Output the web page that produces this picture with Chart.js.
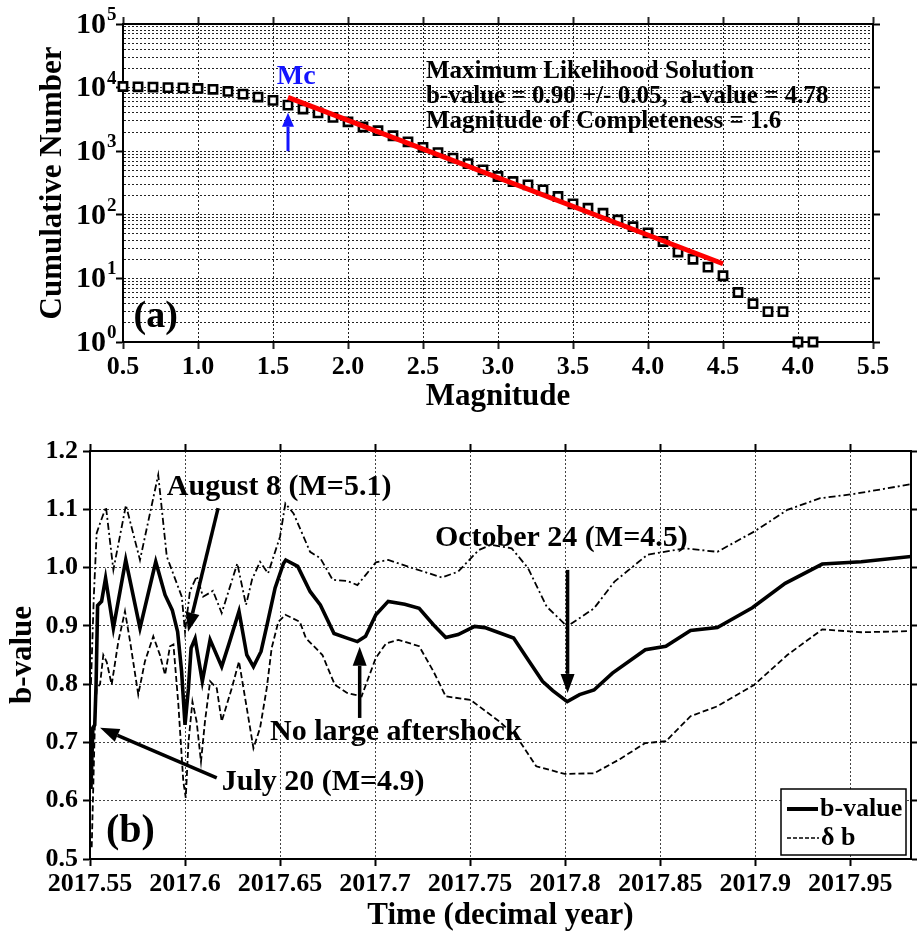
<!DOCTYPE html>
<html>
<head>
<meta charset="utf-8">
<script src="https://cdn.jsdelivr.net/npm/chart.js@4.4.1/dist/chart.umd.min.js"></script>
<style>
  body { margin: 0; background: #fff; }
  #wrap { position: relative; width: 917px; height: 935px; overflow: hidden; }
  canvas { position: absolute; left: 0; }
  #gr { top: 0; }
  #bv { top: 425px; }
</style>
</head>
<body>
<div id="wrap">
  <canvas id="gr" width="917" height="425"></canvas>
  <canvas id="bv" width="917" height="510"></canvas>
</div>
<script>
// ===== (a) Frequency-magnitude distribution =====
const magnitudes = [0.5, 0.6, 0.7, 0.8, 0.9, 1.0, 1.1, 1.2, 1.3, 1.4, 1.5, 1.6, 1.7, 1.8, 1.9, 2.0,
    2.1, 2.2, 2.3, 2.4, 2.5, 2.6, 2.7, 2.8, 2.9, 3.0, 3.1, 3.2, 3.3, 3.4, 3.5, 3.6, 3.7, 3.8, 3.9, 4.0,
    4.1, 4.2, 4.3, 4.4, 4.5, 4.6, 4.7, 4.8, 4.9, 5.0, 5.1];
const cumNumber = [10400, 10300, 10200, 10000, 9900, 9700, 9400, 8700, 7900, 7100, 6300, 5300, 4600, 4000, 3400, 2900,
    2400, 2100, 1750, 1400, 1150, 950, 780, 640, 510, 400, 334, 296, 247, 194, 149, 127, 106, 83, 65, 52,
    38, 26, 20, 15, 11, 6, 4, 3, 3, 1, 1];
// red maximum-likelihood line, end points
const fitMag = [1.6, 4.5];
const fitNum = [7000, 17];
const magTicks = [0.5, 1.0, 1.5, 2.0, 2.5, 3.0, 3.5, 4.0, 4.5, 5.0, 5.5];
const magTickLabels = ['0.5', '1.0', '1.5', '2.0', '2.5', '3.0', '3.5', '4.0', '4.5', '4.0', '5.5'];
const decades = [1, 10, 100, 1000, 10000, 100000];

// ===== (b) b-value through time =====
const bTime = [2017.5505, 2017.5515, 2017.5525, 2017.5532, 2017.5540, 2017.5561, 2017.5582, 2017.5623, 2017.5688,
    2017.5763, 2017.5846, 2017.5895, 2017.5933, 2017.5961, 2017.5982, 2017.6000, 2017.6018, 2017.6032, 2017.6053,
    2017.6091, 2017.6132, 2017.6193, 2017.6232, 2017.6284, 2017.6325, 2017.6360, 2017.6400, 2017.6435, 2017.6474,
    2017.6518, 2017.6530, 2017.6593, 2017.6658, 2017.6712, 2017.6784, 2017.6853, 2017.6907, 2017.6950, 2017.7004,
    2017.7069, 2017.7156, 2017.7232, 2017.7307, 2017.7372, 2017.7437, 2017.7524, 2017.7578, 2017.7729, 2017.7805,
    2017.7881, 2017.7935, 2017.8011, 2017.8076, 2017.8152, 2017.8249, 2017.8422, 2017.8530, 2017.8660, 2017.8801,
    2017.8985, 2017.9158, 2017.9353, 2017.9558, 2017.9820];
const bValue = [0.62, 0.725, 0.73, 0.80, 0.935, 0.942, 0.982, 0.896, 1.013,
    0.896, 1.010, 0.953, 0.927, 0.890, 0.822, 0.730, 0.793, 0.862, 0.878,
    0.805, 0.876, 0.830, 0.870, 0.925, 0.850, 0.830, 0.856, 0.907, 0.965,
    1.007, 1.013, 1.002, 0.959, 0.936, 0.887, 0.879, 0.873, 0.882, 0.919,
    0.942, 0.937, 0.930, 0.902, 0.880, 0.885, 0.899, 0.897, 0.879, 0.842,
    0.805, 0.789, 0.770, 0.782, 0.790, 0.819, 0.859, 0.865, 0.892, 0.897,
    0.931, 0.973, 1.006, 1.010, 1.019];

const upTime = [2017.5505, 2017.5520, 2017.5535, 2017.5553, 2017.5584, 2017.5623, 2017.5689, 2017.5763, 2017.5859,
    2017.5904, 2017.5983, 2017.6000, 2017.6026, 2017.6062, 2017.6095, 2017.6147, 2017.6193, 2017.6275, 2017.6321,
    2017.6353, 2017.6395, 2017.6437, 2017.6500, 2017.6528, 2017.6571, 2017.6658, 2017.6712, 2017.6777, 2017.6853,
    2017.6907, 2017.6950, 2017.7004, 2017.7069, 2017.7199, 2017.7351, 2017.7437, 2017.7545, 2017.7610, 2017.7719,
    2017.7805, 2017.7903, 2017.8011, 2017.8152, 2017.8260, 2017.8433, 2017.8628, 2017.8801, 2017.8996, 2017.9169,
    2017.9342, 2017.9515, 2017.9820];
const upValue = [0.80, 0.95, 1.059, 1.076, 1.104, 0.996, 1.107, 1.013, 1.159,
    1.019, 0.950, 0.890, 0.960, 0.985, 0.950, 0.960, 0.922, 1.007, 0.936,
    0.980, 1.010, 0.990, 1.053, 1.110, 1.093, 1.027, 1.016, 0.979, 0.977,
    0.970, 0.987, 1.009, 1.013, 0.999, 0.983, 0.993, 1.030, 1.039, 1.033,
    0.999, 0.933, 0.899, 0.930, 0.976, 1.022, 1.033, 1.027, 1.062, 1.099,
    1.119, 1.126, 1.143];

const lowTime = [2017.5509, 2017.5526, 2017.5535, 2017.5553, 2017.5570, 2017.5588, 2017.5614, 2017.5649, 2017.5684,
    2017.5711, 2017.5754, 2017.5789, 2017.5833, 2017.5868, 2017.5895, 2017.5921, 2017.5939, 2017.5965, 2017.5991,
    2017.6004, 2017.6018, 2017.6039, 2017.6061, 2017.6084, 2017.6105, 2017.6132, 2017.6167, 2017.6193, 2017.6246,
    2017.6284, 2017.6325, 2017.6360, 2017.6395, 2017.6430, 2017.6456, 2017.6491, 2017.6528, 2017.6604, 2017.6636,
    2017.6723, 2017.6788, 2017.6853, 2017.6929, 2017.7004, 2017.7058, 2017.7123, 2017.7232, 2017.7307, 2017.7372,
    2017.7502, 2017.7654, 2017.7751, 2017.7848, 2017.7998, 2017.8152, 2017.8281, 2017.8422, 2017.8530, 2017.8660,
    2017.8801, 2017.8996, 2017.9169, 2017.9353, 2017.9558, 2017.9820];
const lowValue = [0.52, 0.736, 0.793, 0.800, 0.850, 0.838, 0.799, 0.873, 0.925,
    0.873, 0.782, 0.839, 0.882, 0.850, 0.816, 0.865, 0.868, 0.765, 0.633,
    0.605, 0.700, 0.770, 0.736, 0.667, 0.736, 0.805, 0.793, 0.736, 0.793,
    0.839, 0.759, 0.690, 0.725, 0.793, 0.862, 0.907, 0.919, 0.907, 0.879,
    0.850, 0.799, 0.785, 0.779, 0.845, 0.870, 0.876, 0.865, 0.822, 0.779,
    0.773, 0.736, 0.707, 0.659, 0.646, 0.647, 0.670, 0.699, 0.702, 0.745,
    0.762, 0.799, 0.850, 0.894, 0.889, 0.891];

const timeTicks = [2017.55, 2017.6, 2017.65, 2017.7, 2017.75, 2017.8, 2017.85, 2017.9, 2017.95];
const timeTickLabels = ['2017.55', '2017.6', '2017.65', '2017.7', '2017.75', '2017.8', '2017.85', '2017.9', '2017.95'];
const bTicks = [0.5, 0.6, 0.7, 0.8, 0.9, 1.0, 1.1, 1.2];

const SERIF = "'Liberation Serif', 'Times New Roman', serif";
Chart.defaults.font.family = SERIF;
Chart.defaults.font.weight = 'bold';
Chart.defaults.color = '#000';

const zip = (xs, ys) => xs.map((v, i) => ({ x: v, y: ys[i] }));

// text labels and arrows placed in data coordinates
function drawArrow(ctx, x1, y1, x2, y2, color, width, headLen, headW) {
    const ang = Math.atan2(y2 - y1, x2 - x1);
    const bx = x2 - headLen * Math.cos(ang);
    const by = y2 - headLen * Math.sin(ang);
    ctx.save();
    ctx.strokeStyle = color;
    ctx.fillStyle = color;
    ctx.lineWidth = width;
    ctx.beginPath();
    ctx.moveTo(x1, y1);
    ctx.lineTo(bx, by);
    ctx.stroke();
    ctx.beginPath();
    ctx.moveTo(x2, y2);
    ctx.lineTo(bx + headW / 2 * Math.sin(ang), by - headW / 2 * Math.cos(ang));
    ctx.lineTo(bx - headW / 2 * Math.sin(ang), by + headW / 2 * Math.cos(ang));
    ctx.closePath();
    ctx.fill();
    ctx.restore();
}

function makeNotes(id, texts, arrows) {
    return {
        id: id,
        afterDatasetsDraw(chart) {
            const { ctx } = chart;
            const x = chart.scales.x, y = chart.scales.y;
            arrows.forEach(a => {
                drawArrow(ctx, x.getPixelForValue(a.from[0]), y.getPixelForValue(a.from[1]),
                    x.getPixelForValue(a.to[0]), y.getPixelForValue(a.to[1]),
                    a.color, a.width, a.head[0], a.head[1]);
            });
            texts.forEach(t => {
                ctx.save();
                ctx.font = t.font;
                ctx.fillStyle = t.color || '#000';
                ctx.textAlign = t.align || 'left';
                ctx.textBaseline = 'middle';
                ctx.fillText(t.text, x.getPixelForValue(t.at[0]), y.getPixelForValue(t.at[1]));
                ctx.restore();
            });
        }
    };
}

// ---------- chart (a) ----------
const grTexts = [
    { text: 'Mc', at: [1.655, 15000], font: 'bold 28px ' + SERIF, color: '#1414ff', align: 'center' },
    { text: 'Maximum Likelihood Solution', at: [2.52, 18150], font: 'bold 25px ' + SERIF },
    { text: 'b-value = 0.90 +/- 0.05,  a-value = 4.78', at: [2.52, 7310], font: 'bold 25px ' + SERIF },
    { text: 'Magnitude of Completeness = 1.6', at: [2.52, 2951], font: 'bold 25px ' + SERIF },
    { text: '(a)', at: [0.57, 2.45], font: 'bold 38px ' + SERIF }
];
const grArrows = [
    { from: [1.6, 1000], to: [1.6, 4030], color: '#1414ff', width: 3, head: [14, 12] }
];

// superscript decade labels on the log axis
const decadeLabels = {
    id: 'decadeLabels',
    afterDraw(chart) {
        const { ctx } = chart;
        const y = chart.scales.y;
        const right = y.right - 17;
        decades.forEach(v => {
            const py = y.getPixelForValue(v);
            ctx.save();
            ctx.fillStyle = '#000';
            ctx.textBaseline = 'middle';
            ctx.textAlign = 'right';
            ctx.font = 'bold 30px ' + SERIF;
            ctx.fillText('10', right, py + 1);
            ctx.textAlign = 'left';
            ctx.font = 'bold 19px ' + SERIF;
            ctx.fillText(String(Math.round(Math.log10(v))), right + 1, py - 9);
            ctx.restore();
        });
    }
};

const logTicks = [];
decades.forEach(d => {
    for (let k = 1; k <= 9; k++) {
        if (d * k <= decades[decades.length - 1]) logTicks.push(d * k);
    }
});
const isDecade = v => Math.abs(Math.log10(v) - Math.round(Math.log10(v))) < 1e-9;

const grGrid = {
    color: '#222',
    lineWidth: 1,
    tickLength: 7,
    tickWidth: 2,
    tickBorderDash: []
};
const grBorder = { display: true, color: '#000', width: 2, dash: [2, 2] };

new Chart(document.getElementById('gr'), {
    type: 'scatter',
    data: {
        datasets: [
            {
                label: 'ML fit',
                data: zip(fitMag, fitNum),
                showLine: true,
                borderColor: '#ff0000',
                borderWidth: 5,
                pointRadius: 0,
                fill: false
            },
            {
                label: 'Cumulative number',
                data: zip(magnitudes, cumNumber),
                pointStyle: 'rect',
                pointRadius: 5.8,
                borderWidth: 2.6,
                borderColor: '#000',
                backgroundColor: '#fff',
                clip: false
            }
        ]
    },
    options: {
        responsive: false,
        animation: false,
        events: [],
        layout: { padding: { top: 16, right: 36, left: 0, bottom: 0 } },
        plugins: { legend: { display: false }, tooltip: { enabled: false } },
        scales: {
            x: {
                type: 'linear',
                position: 'bottom',
                min: 0.5,
                max: 5.5,
                afterBuildTicks: s => { s.ticks = magTicks.map(v => ({ value: v })); },
                afterFit: s => { s.height = 83; },
                ticks: {
                    autoSkip: false,
                    maxRotation: 0,
                    padding: 3,
                    font: { size: 26, weight: 'bold' },
                    callback: (v, i) => magTickLabels[i]
                },
                grid: grGrid,
                border: grBorder,
                title: {
                    display: true,
                    text: 'Magnitude',
                    font: { size: 31, weight: 'bold' },
                    padding: { top: 0, bottom: 9 }
                }
            },
            xTop: {
                type: 'linear',
                position: 'top',
                min: 0.5,
                max: 5.5,
                afterBuildTicks: s => { s.ticks = magTicks.map(v => ({ value: v })); },
                afterFit: s => { s.height = 8; },
                ticks: { display: false },
                grid: { ...grGrid, drawOnChartArea: false },
                border: grBorder
            },
            y: {
                type: 'logarithmic',
                position: 'left',
                min: 1,
                max: 100000,
                afterBuildTicks: s => { s.ticks = logTicks.map(v => ({ value: v })); },
                afterFit: s => { s.width = 123; },
                ticks: { display: false },
                grid: {
                    ...grGrid,
                    tickColor: c => (c.tick && isDecade(c.tick.value)) ? '#000' : 'rgba(0,0,0,0)'
                },
                border: grBorder,
                title: {
                    display: true,
                    text: 'Cumulative Number',
                    font: { size: 31, weight: 'bold' },
                    padding: { top: 34, bottom: 0 }
                }
            },
            yRight: {
                type: 'logarithmic',
                position: 'right',
                min: 1,
                max: 100000,
                afterBuildTicks: s => { s.ticks = logTicks.map(v => ({ value: v })); },
                afterFit: s => { s.width = 8; },
                ticks: { display: false },
                grid: {
                    ...grGrid,
                    drawOnChartArea: false,
                    tickColor: c => (c.tick && isDecade(c.tick.value)) ? '#000' : 'rgba(0,0,0,0)'
                },
                border: grBorder
            }
        }
    },
    plugins: [makeNotes('grNotes', grTexts, grArrows), decadeLabels]
});

// ---------- chart (b) ----------
const bvTexts = [
    { text: 'August 8 (M=5.1)', at: [2017.5904, 1.137], font: 'bold 30px ' + SERIF },
    { text: 'October 24 (M=4.5)', at: [2017.798, 1.051], font: 'bold 30px ' + SERIF, align: 'center' },
    { text: 'No large aftershock', at: [2017.6447, 0.717], font: 'bold 30px ' + SERIF },
    { text: 'July 20 (M=4.9)', at: [2017.6193, 0.631], font: 'bold 30px ' + SERIF },
    { text: '(b)', at: [2017.5584, 0.547], font: 'bold 40px ' + SERIF }
];
const bvArrows = [
    { from: [2017.6174, 1.102], to: [2017.6016, 0.890], color: '#000', width: 3.5, head: [19, 14] },
    { from: [2017.6167, 0.639], to: [2017.5553, 0.725], color: '#000', width: 3.5, head: [19, 14] },
    { from: [2017.6919, 0.742], to: [2017.6919, 0.864], color: '#000', width: 3.5, head: [19, 14] },
    { from: [2017.8013, 0.996], to: [2017.8013, 0.785], color: '#000', width: 3.5, head: [19, 14] }
];

// boxed legend in the lower right corner of the plot
const boxLegend = {
    id: 'boxLegend',
    afterDraw(chart) {
        const { ctx, chartArea } = chart;
        const w = 125, h = 66;
        const x0 = chartArea.right - 5 - w;
        const y0 = chartArea.bottom - 4 - h;
        ctx.save();
        ctx.fillStyle = '#fff';
        ctx.fillRect(x0, y0, w, h);
        ctx.strokeStyle = '#000';
        ctx.lineWidth = 1.5;
        ctx.strokeRect(x0, y0, w, h);
        ctx.font = 'bold 26px ' + SERIF;
        ctx.fillStyle = '#000';
        ctx.textBaseline = 'middle';
        ctx.textAlign = 'left';
        // b-value
        ctx.lineWidth = 4;
        ctx.beginPath();
        ctx.moveTo(x0 + 6, y0 + 20);
        ctx.lineTo(x0 + 37, y0 + 20);
        ctx.stroke();
        ctx.fillText('b-value', x0 + 39, y0 + 20);
        // delta b
        ctx.lineWidth = 1.6;
        ctx.setLineDash([4, 2]);
        ctx.beginPath();
        ctx.moveTo(x0 + 6, y0 + 49);
        ctx.lineTo(x0 + 38, y0 + 49);
        ctx.stroke();
        ctx.setLineDash([]);
        ctx.fillText('\u03b4 b', x0 + 40, y0 + 49);
        ctx.restore();
    }
};

const bvGrid = {
    color: '#444',
    lineWidth: 1,
    tickLength: 7,
    tickWidth: 2,
    tickColor: '#000',
    tickBorderDash: []
};
const bvBorder = { display: true, color: '#000', width: 2, dash: [2, 2] };

new Chart(document.getElementById('bv'), {
    type: 'scatter',
    data: {
        datasets: [
            {
                label: 'b-value',
                data: zip(bTime, bValue),
                showLine: true,
                borderColor: '#000',
                borderWidth: 3.6,
                pointRadius: 0,
                tension: 0
            },
            {
                label: 'upper',
                data: zip(upTime, upValue),
                showLine: true,
                borderColor: '#000',
                borderWidth: 1.8,
                borderDash: [7, 3, 2, 3],
                pointRadius: 0,
                tension: 0
            },
            {
                label: '\u03b4 b',
                data: zip(lowTime, lowValue),
                showLine: true,
                borderColor: '#000',
                borderWidth: 1.8,
                borderDash: [6, 3],
                pointRadius: 0,
                tension: 0
            }
        ]
    },
    options: {
        responsive: false,
        animation: false,
        events: [],
        layout: { padding: { top: 18, right: 0, left: 0, bottom: 0 } },
        plugins: { legend: { display: false }, tooltip: { enabled: false } },
        scales: {
            x: {
                type: 'linear',
                position: 'bottom',
                min: 2017.55,
                max: 2017.982,
                afterBuildTicks: s => { s.ticks = timeTicks.map(v => ({ value: v })); },
                afterFit: s => { s.height = 76; },
                ticks: {
                    autoSkip: false,
                    maxRotation: 0,
                    minRotation: 0,
                    padding: 3,
                    font: { size: 26, weight: 'bold' },
                    callback: (v, i) => timeTickLabels[i]
                },
                grid: bvGrid,
                border: bvBorder,
                title: {
                    display: true,
                    text: 'Time (decimal year)',
                    font: { size: 31, weight: 'bold' },
                    padding: { top: 0, bottom: 0 }
                }
            },
            xTop: {
                type: 'linear',
                position: 'top',
                min: 2017.55,
                max: 2017.982,
                afterBuildTicks: s => { s.ticks = timeTicks.map(v => ({ value: v })); },
                afterFit: s => { s.height = 8; },
                ticks: { display: false },
                grid: { ...bvGrid, drawOnChartArea: false },
                border: bvBorder
            },
            y: {
                type: 'linear',
                position: 'left',
                min: 0.5,
                max: 1.2,
                afterBuildTicks: s => { s.ticks = bTicks.map(v => ({ value: v })); },
                afterFit: s => { s.width = 90; },
                ticks: {
                    padding: 5,
                    font: { size: 26, weight: 'bold' },
                    callback: v => Number(v).toFixed(1)
                },
                grid: bvGrid,
                border: bvBorder,
                title: {
                    display: true,
                    text: 'b-value',
                    font: { size: 31, weight: 'bold' },
                    padding: { top: 4, bottom: 0 }
                }
            },
            yRight: {
                type: 'linear',
                position: 'right',
                min: 0.5,
                max: 1.2,
                afterBuildTicks: s => { s.ticks = bTicks.map(v => ({ value: v })); },
                afterFit: s => { s.width = 6; },
                ticks: { display: false },
                grid: { ...bvGrid, drawOnChartArea: false },
                border: bvBorder
            }
        }
    },
    plugins: [makeNotes('bvNotes', bvTexts, bvArrows), boxLegend]
});
</script>
</body>
</html>
